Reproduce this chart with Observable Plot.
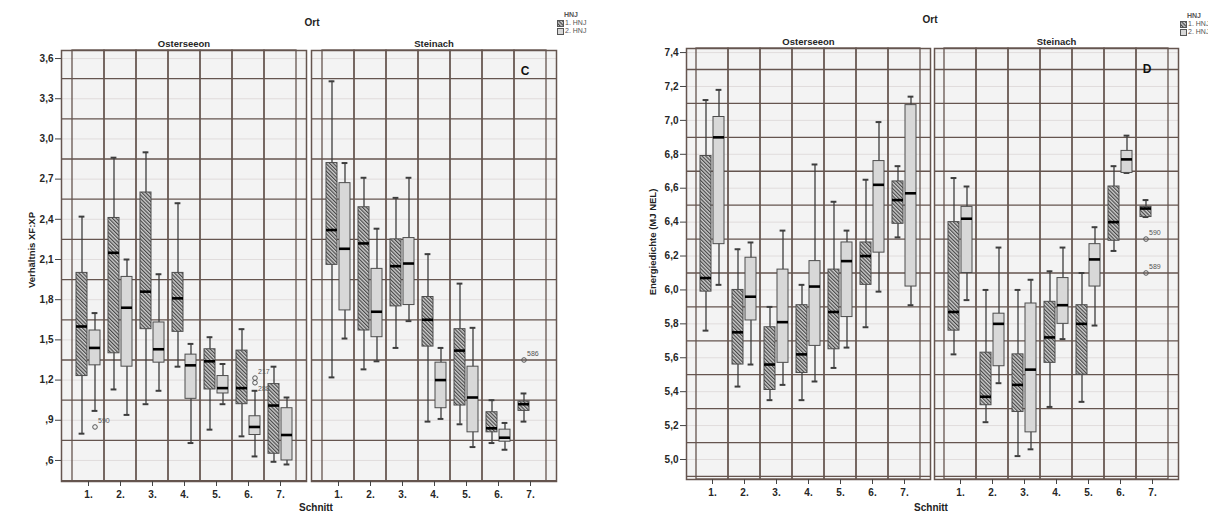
<!DOCTYPE html>
<html><head><meta charset="utf-8">
<script src="https://cdn.jsdelivr.net/npm/d3@7"></script>
<script src="https://cdn.jsdelivr.net/npm/@observablehq/plot@0.6"></script>
<style>
body{margin:0;background:#fff;font-family:"Liberation Sans",Arial,sans-serif;}
#wrap{position:relative;width:1208px;height:517px;overflow:hidden;background:#fff;}
.panel{position:absolute;top:0;}
.t{position:absolute;font-weight:bold;color:#222;white-space:nowrap;transform:translate(-50%,-50%);}
.yl{position:absolute;font-weight:bold;color:#222;white-space:nowrap;font-size:9.5px;transform:translate(-50%,-50%) rotate(-90deg);}
.leg{position:absolute;font-size:7px;color:#555;line-height:8px;white-space:nowrap;}
.leg .h{font-weight:bold;margin-left:7px;}
.leg svg{vertical-align:middle;margin-right:1px;}
</style></head>
<body>
<svg width="0" height="0" style="position:absolute"><defs>
<pattern id="hatch" patternUnits="userSpaceOnUse" width="2.6" height="2.6" patternTransform="rotate(-45)">
<rect width="2.6" height="2.6" fill="#cdcdcd"/>
<line x1="0.6" y1="0" x2="0.6" y2="2.6" stroke="#3f3f3f" stroke-width="1.1"/>
</pattern></defs></svg>
<div id="wrap">
  <div id="pc" class="panel" style="left:0"></div>
  <div id="pd" class="panel" style="left:604px"></div>
  <div class="t" style="left:312px;top:22px;font-size:10px">Ort</div>
  <div class="t" style="left:930px;top:19px;font-size:10px">Ort</div>
  <div class="t" style="left:316px;top:507px;font-size:10px">Schnitt</div>
  <div class="t" style="left:931px;top:507px;font-size:10px">Schnitt</div>
  <div class="yl" style="left:31px;top:250px">Verhältnis XF:XP</div>
  <div class="yl" style="left:652px;top:242px">Energiedichte (MJ NEL)</div>
  <div class="leg" style="left:557px;top:11px"><div class="h">HNJ</div>
    <div><svg width="7" height="7"><rect x="0.5" y="0.5" width="6" height="6" fill="url(#hatch)" stroke="#555"/></svg>1. HNJ</div>
    <div><svg width="7" height="7"><rect x="0.5" y="0.5" width="6" height="6" fill="#d8d8d8" stroke="#555"/></svg>2. HNJ</div></div>
  <div class="leg" style="left:1180px;top:12px"><div class="h">HNJ</div>
    <div><svg width="7" height="7"><rect x="0.5" y="0.5" width="6" height="6" fill="url(#hatch)" stroke="#555"/></svg>1. HNJ</div>
    <div><svg width="7" height="7"><rect x="0.5" y="0.5" width="6" height="6" fill="#d8d8d8" stroke="#555"/></svg>2. HNJ</div></div>
</div>
<script>
// ---------- categories ----------
const schnitt = ["1.","2.","3.","4.","5.","6.","7."];
const orte = ["Osterseeon","Steinach"];
const hnj = ["1. HNJ","2. HNJ"];

// ---------- Panel C: Verhältnis XF:XP ; each entry [lower whisker, Q1, median, Q3, upper whisker] ----------
const cOstH1 = [[0.80,1.23,1.60,2.00,2.42],[1.13,1.40,2.15,2.41,2.86],[1.02,1.58,1.86,2.60,2.90],[1.30,1.56,1.81,2.00,2.52],[0.83,1.13,1.34,1.43,1.52],[0.78,1.02,1.14,1.42,1.58],[0.59,0.65,1.01,1.17,1.30]];
const cOstH2 = [[0.97,1.31,1.44,1.57,1.70],[0.94,1.30,1.74,1.97,2.10],[1.12,1.33,1.43,1.63,1.99],[0.73,1.06,1.31,1.39,1.47],[1.02,1.10,1.14,1.23,1.32],[0.63,0.79,0.85,0.93,1.12],[0.57,0.60,0.79,0.99,1.07]];
const cSteH1 = [[1.22,2.06,2.32,2.82,3.43],[1.28,1.57,2.22,2.49,2.71],[1.44,1.75,2.05,2.25,2.56],[0.89,1.45,1.65,1.82,2.14],[0.87,1.01,1.42,1.58,1.92],[0.73,0.81,0.84,0.96,1.05],[0.89,0.97,1.02,1.04,1.10]];
const cSteH2 = [[1.51,1.72,2.18,2.67,2.82],[1.34,1.52,1.71,2.03,2.33],[1.64,1.76,2.07,2.26,2.71],[0.91,0.99,1.20,1.33,1.44],[0.70,0.81,1.07,1.30,1.59],[0.68,0.74,0.77,0.83,0.88],null];
const cOutOrt = ["Osterseeon","Osterseeon","Osterseeon","Steinach"];
const cOutSchnitt = ["1.","6.","6.","7."];
const cOutHnj = ["2. HNJ","2. HNJ","2. HNJ","1. HNJ"];
const cOutValue = [0.85,1.215,1.18,1.35];
const cOutLabel = ["590","217","288","586"];
const cTicks = [0.6,0.9,1.2,1.5,1.8,2.1,2.4,2.7,3.0,3.3,3.6];
const cGrid = [0.45,0.75,1.05,1.35,1.65,1.95,2.25,2.55,2.85,3.15,3.45];

// ---------- Panel D: Energiedichte (MJ NEL) ----------
const dOstH1 = [[5.76,5.99,6.07,6.79,7.12],[5.43,5.56,5.75,6.00,6.24],[5.35,5.41,5.56,5.78,5.90],[5.35,5.51,5.62,5.91,6.03],[5.54,5.65,5.87,6.12,6.52],[5.78,6.03,6.20,6.28,6.65],[6.31,6.39,6.53,6.64,6.73]];
const dOstH2 = [[6.03,6.27,6.90,7.02,7.18],[5.56,5.82,5.96,6.19,6.28],[5.44,5.57,5.81,6.12,6.35],[5.46,5.67,6.02,6.17,6.74],[5.66,5.84,6.17,6.28,6.35],[5.99,6.22,6.62,6.76,6.99],[5.91,6.02,6.57,7.09,7.14]];
const dSteH1 = [[5.62,5.76,5.87,6.40,6.66],[5.22,5.32,5.37,5.63,6.00],[5.02,5.28,5.44,5.62,6.00],[5.31,5.57,5.72,5.93,6.11],[5.34,5.50,5.80,5.91,6.10],[6.23,6.29,6.40,6.61,6.73],[6.43,6.43,6.48,6.49,6.53]];
const dSteH2 = [[5.94,6.10,6.42,6.49,6.61],[5.45,5.55,5.80,5.86,6.25],[5.06,5.16,5.53,5.92,6.06],[5.71,5.80,5.91,6.07,6.25],[5.79,6.02,6.18,6.27,6.37],[6.69,6.69,6.77,6.82,6.91],null];
const dOutOrt = ["Steinach","Steinach"];
const dOutSchnitt = ["7.","7."];
const dOutHnj = ["1. HNJ","1. HNJ"];
const dOutValue = [6.30,6.10];
const dOutLabel = ["590","589"];
const dTicks = [5.0,5.2,5.4,5.6,5.8,6.0,6.2,6.4,6.6,6.8,7.0,7.2,7.4];
const dGrid = [4.9,5.1,5.3,5.5,5.7,5.9,6.1,6.3,6.5,6.7,6.9,7.1,7.3];
const labelBelow = ["288"];

// ---------- helpers ----------
function rows(sets) {
  const out = [];
  sets.forEach(([ort, grp, arr]) => arr.forEach((s, i) => {
    if (s) out.push({Ort: ort, HNJ: grp, Schnitt: schnitt[i], lo: s[0], q1: s[1], med: s[2], q3: s[3], hi: s[4]});
  }));
  return out;
}
function outs(o, s, h, v, l) { return v.map((val, i) => ({Ort: o[i], Schnitt: s[i], HNJ: h[i], v: val, label: l[i]})); }
const fmt = d => d.toFixed(1).replace(".", ",").replace(/^0/, "");

const gridC = "#65554f";
const boxStroke = "#4d4d4d";

function panel({data, outliers, ticks, grid, domain, width, mL, mR, mT, mB, letter, fxPad}) {
  const marks = [
    Plot.frame({fill: "#f3f3f3"}),
    Plot.ruleY(ticks, {stroke: "#e0dcdc", strokeWidth: 1}),
    Plot.ruleY(grid, {stroke: gridC, strokeWidth: 1.3}),
    Plot.cell(schnitt, {x: d => d, fill: "none", stroke: gridC, strokeWidth: 1.3, inset: 0})
  ];
  const geo = {
    "1. HNJ": {dx: -6.5, boxL: 4, boxR: 17, capL: 6.6, capR: 19.6, fill: "url(#hatch)"},
    "2. HNJ": {dx: 6.5, boxL: 17, boxR: 4, capL: 19.6, capR: 6.6, fill: "#d8d8d8"}
  };
  for (const g of hnj) {
    const d = data.filter(r => r.HNJ === g);
    const o = geo[g];
    marks.push(
      Plot.ruleX(d, {x: "Schnitt", fx: "Ort", y1: "lo", y2: "hi", dx: o.dx, stroke: "#3d3d3d", strokeWidth: 1.3}),
      Plot.tickY(d, {x: "Schnitt", fx: "Ort", y: "hi", insetLeft: o.capL, insetRight: o.capR, stroke: "#3d3d3d", strokeWidth: 2}),
      Plot.tickY(d, {x: "Schnitt", fx: "Ort", y: "lo", insetLeft: o.capL, insetRight: o.capR, stroke: "#3d3d3d", strokeWidth: 2}),
      Plot.barY(d, {x: "Schnitt", fx: "Ort", y1: "q1", y2: "q3", insetLeft: o.boxL, insetRight: o.boxR, fill: o.fill, stroke: boxStroke, strokeWidth: 1}),
      Plot.tickY(d, {x: "Schnitt", fx: "Ort", y: "med", insetLeft: o.boxL, insetRight: o.boxR, stroke: "#000", strokeWidth: 2.6})
    );
    const od = outliers.filter(r => r.HNJ === g);
    marks.push(
      Plot.dot(od, {x: "Schnitt", fx: "Ort", y: "v", dx: o.dx, r: 2.3, stroke: "#555", fill: "none", strokeWidth: 1}),
      Plot.text(od.filter(r => !labelBelow.includes(r.label)), {x: "Schnitt", fx: "Ort", y: "v", text: "label", dx: o.dx + 3, dy: -6, textAnchor: "start", fontSize: 7, fontWeight: "normal", fill: "#555"}),
      Plot.text(od.filter(r => labelBelow.includes(r.label)), {x: "Schnitt", fx: "Ort", y: "v", text: "label", dx: o.dx + 3, dy: 6, textAnchor: "start", fontSize: 7, fontWeight: "normal", fill: "#555"})
    );
  }
  marks.push(
    Plot.text([{Ort: "Steinach", t: letter}], {fx: "Ort", text: "t", frameAnchor: "top-right", dx: -27, dy: 16, fontSize: 12, fontWeight: "bold", fill: "#111"}),
    Plot.frame({stroke: gridC, strokeWidth: 1.5}),
    Plot.axisY(ticks, {tickFormat: fmt, tickSize: 6, tickPadding: 2, fontSize: 10, label: null, stroke: "#444"}),
    Plot.axisX({tickSize: 5, tickPadding: 4, fontSize: 10, label: null, stroke: "#444"}),
    Plot.axisFx({anchor: "top", tickSize: 0, tickPadding: 4, fontSize: 9.5, label: null})
  );
  return Plot.plot({
    width, height: 517,
    marginLeft: mL, marginRight: mR, marginTop: mT, marginBottom: mB,
    style: {fontFamily: "'Liberation Sans', Arial, sans-serif", fontWeight: "bold", color: "#262626", background: "transparent"},
    fx: {domain: orte, paddingInner: fxPad, paddingOuter: 0, label: null},
    x: {domain: schnitt, type: "band", paddingInner: 0, paddingOuter: 0.3, label: null},
    y: {domain, label: null},
    marks
  });
}

const cData = rows([["Osterseeon","1. HNJ",cOstH1],["Osterseeon","2. HNJ",cOstH2],["Steinach","1. HNJ",cSteH1],["Steinach","2. HNJ",cSteH2]]);
const dData = rows([["Osterseeon","1. HNJ",dOstH1],["Osterseeon","2. HNJ",dOstH2],["Steinach","1. HNJ",dSteH1],["Steinach","2. HNJ",dSteH2]]);

document.getElementById("pc").append(panel({
  data: cData, outliers: outs(cOutOrt, cOutSchnitt, cOutHnj, cOutValue, cOutLabel),
  ticks: cTicks, grid: cGrid, domain: [0.443, 3.66], width: 604,
  mL: 61, mR: 48, mT: 50, mB: 36, letter: "C", fxPad: 0.02
}));
document.getElementById("pd").append(panel({
  data: dData, outliers: outs(dOutOrt, dOutSchnitt, dOutHnj, dOutValue, dOutLabel),
  ticks: dTicks, grid: dGrid, domain: [4.882, 7.424], width: 604,
  mL: 82, mR: 30, mT: 48, mB: 38, letter: "D", fxPad: 0.0163
}));
</script>
</body></html>
